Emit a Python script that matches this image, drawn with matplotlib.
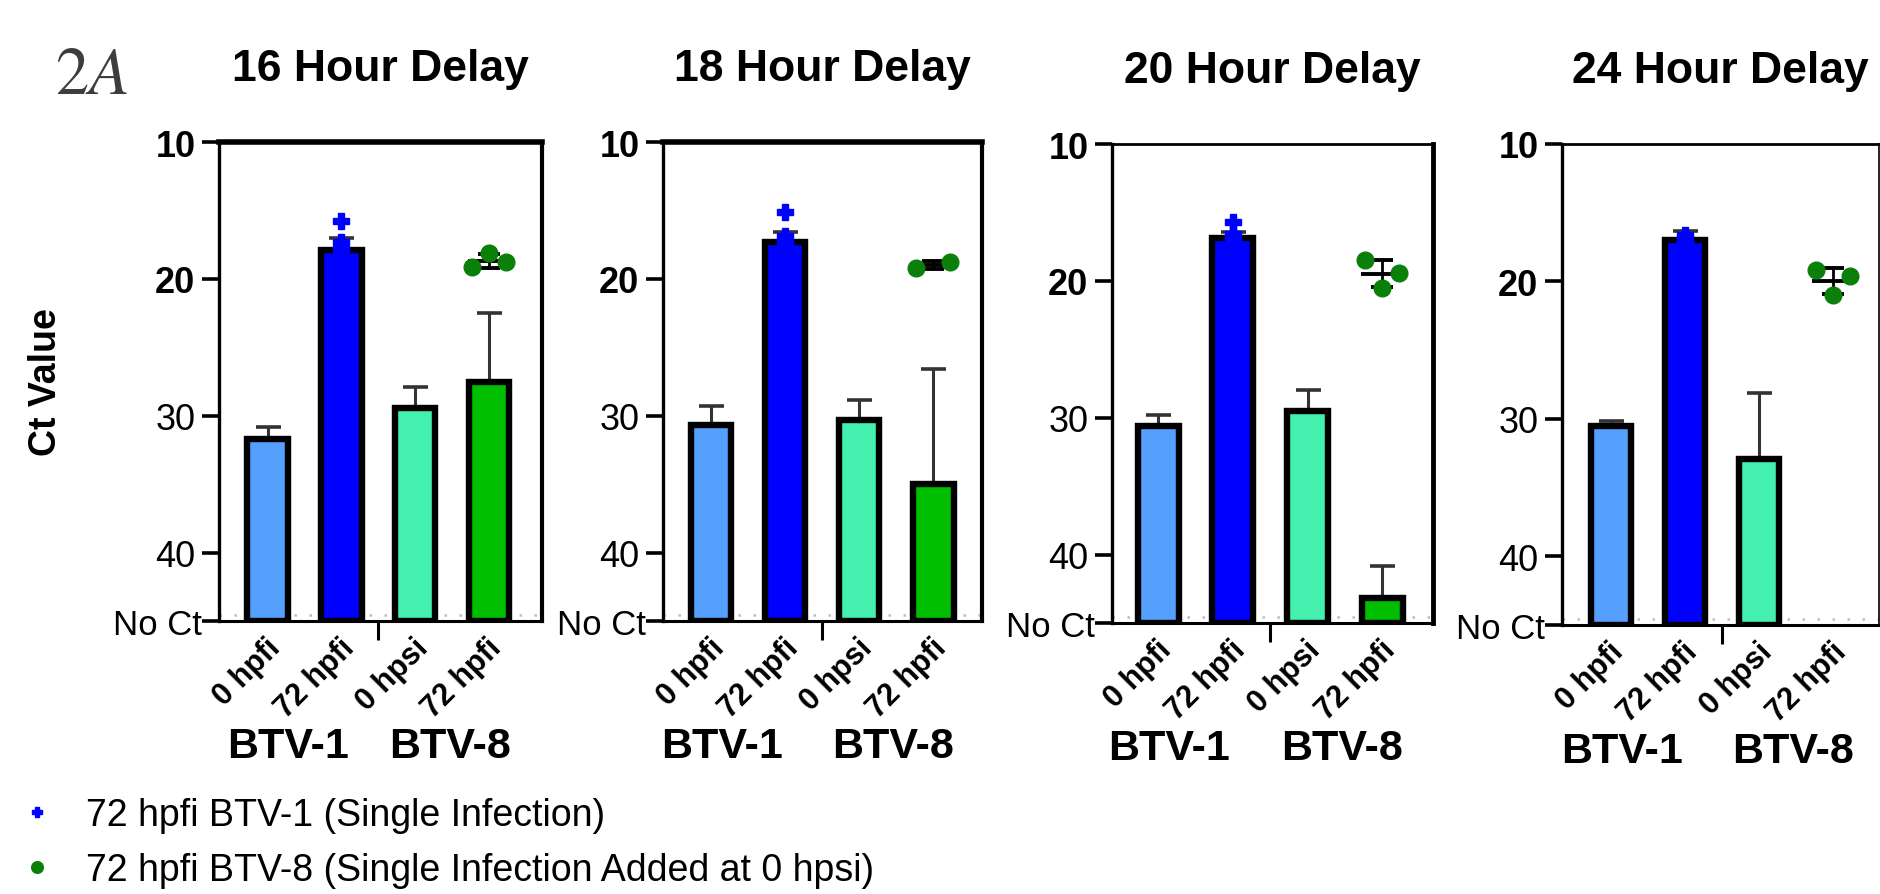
import numpy as np
import matplotlib
matplotlib.use('Agg')
import matplotlib.pyplot as plt
import matplotlib.transforms as mtransforms

plt.rcParams['font.family'] = ['Liberation Sans', 'DejaVu Sans']
plt.rcParams['mathtext.fontset'] = 'stix'

# ---------------- data ----------------
panel_titles = ['16 Hour Delay', '18 Hour Delay', '20 Hour Delay', '24 Hour Delay']
bar_labels = ['0 hpfi', '72 hpfi', '0 hpsi', '72 hpfi']
group_labels = ['BTV-1', 'BTV-8']
ytick_values = [10, 20, 30, 40, 45]
ytick_labels = ['10', '20', '30', '40', 'No Ct']
no_ct_value = 45

means_16h = [31.7, 17.9, 29.4, 27.5]
errs_16h = [0.85, 0.9, 1.5, 5.0]
means_18h = [30.7, 17.3, 30.3, 35.0]
errs_18h = [1.4, 0.7, 1.45, 8.4]
means_20h = [30.6, 16.9, 29.5, 43.2]
errs_20h = [0.8, 0.5, 1.5, 2.4]
means_24h = [30.5, 17.0, 32.9, np.nan]
errs_24h = [0.35, 0.7, 4.8, np.nan]

# 72 hpfi BTV-1 single infection replicates
btv1_single_16h = [15.8, 17.3, 17.8]
btv1_single_18h = [15.1, 16.9, 17.3]
btv1_single_20h = [15.7, 16.6, 16.9]
btv1_single_24h = [16.6, 16.9, 17.1]
# 72 hpfi BTV-8 single infection replicates
btv8_single_16h = [19.1, 18.1, 18.8]
btv8_single_18h = [19.2, 18.8]
btv8_single_20h = [18.5, 20.5, 19.4]
btv8_single_24h = [19.2, 21.0, 19.6]

legend_labels = ['72 hpfi BTV-1 (Single Infection)',
                 '72 hpfi BTV-8 (Single Infection Added at 0 hpsi)']

bar_means = [means_16h, means_18h, means_20h, means_24h]
bar_errs = [errs_16h, errs_18h, errs_20h, errs_24h]
btv1_single = [btv1_single_16h, btv1_single_18h, btv1_single_20h, btv1_single_24h]
btv8_single = [btv8_single_16h, btv8_single_18h, btv8_single_20h, btv8_single_24h]

# ---------------- styling ----------------
bar_colors = ['#55A0FF', '#0000FF', '#44F0AD', '#00BE00']
blue_pt = '#0000FF'
green_pt = '#0A800A'

W, H = 1880, 895
fig = plt.figure(figsize=(W / 100, H / 100), dpi=100)

boxes = [(219, 542, 143, 622), (663, 982, 143, 622),
         (1112, 1433, 145, 624), (1562, 1879, 145, 626)]
xlims = [(-0.66, 3.72), (-0.65, 3.66), (-0.62, 3.68), (-0.66, 3.62)]
top_lw = [4.0, 4.0, 2.0, 2.0]
right_lw = [3.0, 3.0, 3.5, 1.2]
btv1_x = [0.27, 0.15, 0.15, 0.15]
btv8_x = [2.48, 2.46, 2.46, 2.46]

handles = []
for i in range(4):
    l, r, t, b = boxes[i]
    ax = fig.add_axes([l / W, 1 - b / H, (r - l) / W, (b - t) / H])
    x = np.arange(len(bar_labels))
    means = np.array(bar_means[i], dtype=float)
    errs = np.array(bar_errs[i], dtype=float)
    ok = ~np.isnan(means)

    ax.errorbar(x[ok], means[ok], yerr=[errs[ok], np.zeros(ok.sum())], fmt='none',
                ecolor='#333333', elinewidth=2.2, capsize=9, capthick=2.6, zorder=1)
    ax.bar(x[ok], means[ok] - no_ct_value, bottom=no_ct_value, width=0.55,
           color=[bar_colors[k] for k in range(4) if ok[k]],
           edgecolor='black', linewidth=4.6, zorder=2)

    b1 = ax.plot(np.full(len(btv1_single[i]), x[1]), btv1_single[i], ls='none',
                 marker='P', ms=11, color=blue_pt, mec=blue_pt, zorder=5,
                 clip_on=False)[0]
    g = np.array(btv8_single[i])
    ax.errorbar(x[3], g.mean(), yerr=g.std(ddof=1), fmt='_', ms=30, mew=2.8,
                color='black', ecolor='black', elinewidth=2, capsize=8, capthick=2,
                zorder=4)
    jit = np.linspace(-0.23, 0.23, len(g))
    g1 = ax.plot(x[3] + jit, g, ls='none', marker='o', ms=12, color=green_pt,
                 mec=green_pt, zorder=5, clip_on=False)[0]
    if i == 0:
        handles = [b1, g1]

    ax.axhline(no_ct_value - 0.45, color='#bdbdbd', lw=1.8, ls=(0, (1, 5)), zorder=0)

    ax.set_ylim(no_ct_value, 10)
    ax.set_xlim(*xlims[i])
    ax.set_yticks(ytick_values)
    ax.set_yticklabels(ytick_labels)
    ax.tick_params(axis='y', length=12, width=2.6, pad=5)
    nc_off = mtransforms.ScaledTranslation(5 / 72, 0, fig.dpi_scale_trans)
    for lab, txt in zip(ax.get_yticklabels(), ytick_labels):
        lab.set_fontweight('bold' if txt in ('10', '20') else 'normal')
        lab.set_fontsize(26 if txt != 'No Ct' else 25)
        if txt == 'No Ct':
            lab.set_transform(lab.get_transform() + nc_off)

    ax.set_xticks(x)
    ax.set_xticklabels(bar_labels, rotation=45, ha='right', va='center',
                       rotation_mode='anchor', fontsize=22, fontweight='bold')
    ax.set_xticks([1.5], minor=True)
    ax.tick_params(axis='x', which='major', length=0, pad=16)
    ax.tick_params(axis='x', which='minor', length=14, width=2.2)
    off = mtransforms.ScaledTranslation(6 / 72, 0, fig.dpi_scale_trans)
    for lab in ax.get_xticklabels():
        lab.set_transform(lab.get_transform() + off)

    ax.spines['left'].set_linewidth(2.4)
    ax.spines['bottom'].set_linewidth(2.2)
    ax.spines['top'].set_linewidth(top_lw[i])
    ax.spines['right'].set_linewidth(right_lw[i])

    ax.set_title(panel_titles[i], fontsize=32, fontweight='bold', pad=45)

    trans = mtransforms.blended_transform_factory(ax.transData, ax.transAxes)
    ax.text(btv1_x[i], -0.262, group_labels[0], transform=trans, ha='center',
            va='center', fontsize=31, fontweight='bold')
    ax.text(btv8_x[i], -0.262, group_labels[1], transform=trans, ha='center',
            va='center', fontsize=31, fontweight='bold')

fig.text(46 / W, 1 - 382 / H, 'Ct Value', rotation=90, ha='center', va='center',
         fontsize=27, fontweight='bold')
fig.text(55 / W, 1 - 94 / H, r'$2A$', ha='left', va='baseline', fontsize=48,
         color='#3d3d3d')

fig.legend(handles=handles, labels=legend_labels, loc='upper left',
           bbox_to_anchor=(20 / W, 1 - 798 / H), frameon=False, fontsize=27,
           handlelength=0.9, handletextpad=0.85, labelspacing=0.5, borderpad=0,
           borderaxespad=0, markerscale=0.7)

fig.savefig('out.png', dpi=100)
